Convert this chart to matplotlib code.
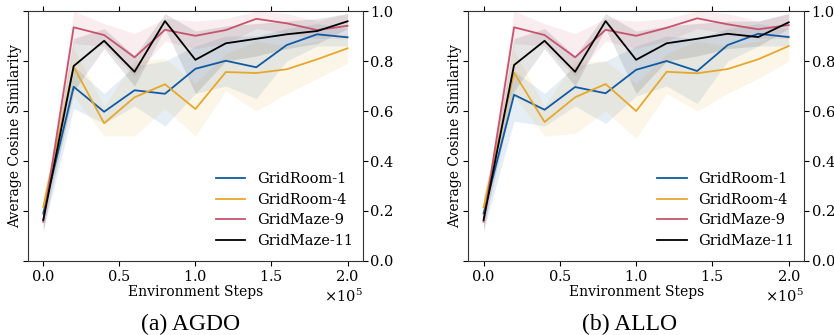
import numpy as np
import matplotlib.pyplot as plt
from matplotlib.ticker import ScalarFormatter

plt.rcParams['font.family'] = 'DejaVu Serif'
plt.rcParams['mathtext.fontset'] = 'dejavuserif'

steps = [0, 20000, 40000, 60000, 80000, 100000, 120000, 140000, 160000, 180000, 200000]
names = ['GridRoom-1', 'GridRoom-4', 'GridMaze-9', 'GridMaze-11']
colors = ['#0f5aa3', '#e5a82b', '#c6546e', '#000000']

# (a) AGDO: mean, lower, upper
agdo_mean = [
    [0.19, 0.697, 0.597, 0.683, 0.669, 0.769, 0.801, 0.775, 0.864, 0.907, 0.895],
    [0.215, 0.777, 0.551, 0.655, 0.707, 0.608, 0.756, 0.752, 0.767, 0.807, 0.851],
    [0.157, 0.935, 0.904, 0.815, 0.925, 0.901, 0.924, 0.969, 0.951, 0.924, 0.941],
    [0.164, 0.780, 0.881, 0.757, 0.960, 0.805, 0.871, 0.889, 0.907, 0.920, 0.959],
]
agdo_low = [
    [0.12, 0.61, 0.55, 0.62, 0.54, 0.67, 0.70, 0.65, 0.80, 0.86, 0.86],
    [0.17, 0.66, 0.50, 0.50, 0.61, 0.50, 0.68, 0.60, 0.67, 0.73, 0.79],
    [0.11, 0.87, 0.86, 0.74, 0.88, 0.85, 0.87, 0.93, 0.91, 0.89, 0.89],
    [0.13, 0.68, 0.85, 0.70, 0.93, 0.67, 0.80, 0.82, 0.85, 0.87, 0.93],
]
agdo_high = [
    [0.26, 0.78, 0.67, 0.78, 0.80, 0.86, 0.90, 0.90, 0.93, 0.95, 0.93],
    [0.26, 0.85, 0.62, 0.80, 0.81, 0.71, 0.83, 0.88, 0.86, 0.88, 0.91],
    [0.20, 1.00, 0.95, 0.91, 0.97, 0.96, 0.97, 1.00, 0.99, 0.96, 0.99],
    [0.20, 0.89, 0.93, 0.82, 0.99, 0.92, 0.94, 0.95, 0.96, 0.97, 0.99],
]

# (b) ALLO
allo_mean = [
    [0.19, 0.665, 0.605, 0.696, 0.671, 0.765, 0.800, 0.760, 0.864, 0.909, 0.896],
    [0.215, 0.753, 0.556, 0.655, 0.708, 0.600, 0.757, 0.751, 0.768, 0.807, 0.860],
    [0.157, 0.935, 0.904, 0.815, 0.925, 0.901, 0.933, 0.971, 0.947, 0.927, 0.944],
    [0.164, 0.784, 0.881, 0.757, 0.960, 0.805, 0.871, 0.889, 0.909, 0.896, 0.955],
]
allo_low = [
    [0.12, 0.56, 0.54, 0.62, 0.55, 0.66, 0.70, 0.63, 0.80, 0.86, 0.86],
    [0.17, 0.66, 0.50, 0.51, 0.60, 0.49, 0.67, 0.60, 0.67, 0.73, 0.80],
    [0.11, 0.87, 0.86, 0.74, 0.88, 0.85, 0.88, 0.93, 0.91, 0.89, 0.89],
    [0.13, 0.68, 0.85, 0.70, 0.93, 0.67, 0.80, 0.82, 0.85, 0.86, 0.93],
]
allo_high = [
    [0.26, 0.76, 0.67, 0.78, 0.80, 0.86, 0.90, 0.89, 0.93, 0.95, 0.93],
    [0.26, 0.84, 0.62, 0.80, 0.80, 0.71, 0.83, 0.88, 0.86, 0.88, 0.91],
    [0.20, 1.00, 0.95, 0.91, 0.97, 0.96, 0.97, 1.00, 0.99, 0.96, 0.99],
    [0.20, 0.89, 0.93, 0.82, 0.99, 0.92, 0.94, 0.95, 0.96, 0.96, 0.99],
]

fig = plt.figure(figsize=(8.34, 3.35), dpi=100)
ax1 = fig.add_axes([0.0336, 0.221, 0.4014, 0.746])
ax2 = fig.add_axes([0.5615, 0.221, 0.4025, 0.746])


def draw(ax, mean, low, high):
    for i in range(len(names)):
        ax.fill_between(steps, low[i], high[i], color=colors[i], alpha=0.1, linewidth=0)
        ax.plot(steps, mean[i], color=colors[i], linewidth=1.3, label=names[i])
    ax.set_xlim(-10000, 210000)
    ax.set_ylim(0, 1.0)
    ax.set_xticks([0, 50000, 100000, 150000, 200000])
    ax.set_yticks([0, 0.2, 0.4, 0.6, 0.8, 1.0])
    fmt = ScalarFormatter(useMathText=True)
    fmt.set_powerlimits((0, 0))
    ax.xaxis.set_major_formatter(fmt)
    ax.tick_params(axis='both', direction='out', labelsize=10.5,
                   top=True, right=True, left=True, labelleft=False, labelright=True, pad=2)
    ax.xaxis.get_offset_text().set_fontsize(10.5)
    ax.set_xlabel('Environment Steps', fontsize=10, labelpad=1)
    ax.set_ylabel('Average Cosine Similarity', fontsize=10, labelpad=1)
    ax.legend(loc='lower right', frameon=False, fontsize=10.5,
              bbox_to_anchor=(1.01, 0.0), handlelength=2.0, labelspacing=0.45)
    for s in ax.spines.values():
        s.set_color('#333333')


draw(ax1, agdo_mean, agdo_low, agdo_high)
draw(ax2, allo_mean, allo_low, allo_high)

fig.text(0.228, 0.015, '(a) AGDO', ha='center', fontsize=17, family='Liberation Serif')
fig.text(0.755, 0.015, '(b) ALLO', ha='center', fontsize=17, family='Liberation Serif')

fig.savefig('out.png', dpi=100)
